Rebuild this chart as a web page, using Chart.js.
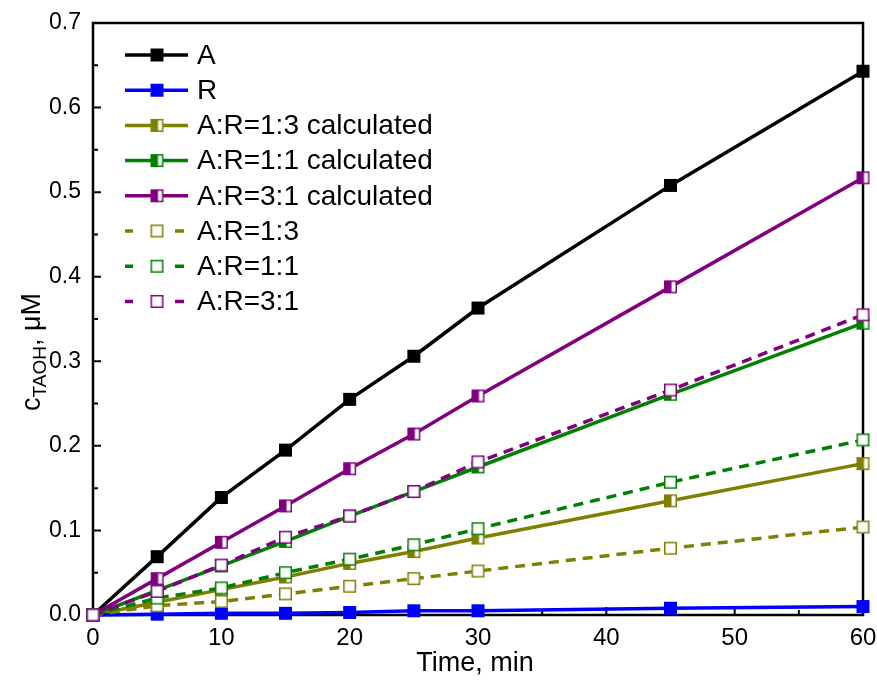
<!DOCTYPE html>
<html>
<head>
<meta charset="utf-8">
<script src="https://cdn.jsdelivr.net/npm/chart.js@4.4.1/dist/chart.umd.min.js"></script>
<style>
  html, body { margin: 0; padding: 0; background: #fff; }
  #wrap { width: 877px; height: 681px; }
</style>
</head>
<body>
<div id="wrap"><canvas id="c" width="877" height="681"></canvas></div>
<script>
// sampling times, min
const times = [0, 5, 10, 15, 20, 25, 30, 45, 60];

// TAOH concentration, uM
const cA     = [0, 0.069, 0.139, 0.195, 0.255, 0.306, 0.363, 0.508, 0.643];
const cR     = [0, 0.001, 0.002, 0.002, 0.003, 0.005, 0.005, 0.008, 0.010];
const calc13 = [0, 0.015, 0.030, 0.045, 0.061, 0.075, 0.091, 0.135, 0.179];
const calc11 = [0, 0.029, 0.058, 0.087, 0.117, 0.146, 0.175, 0.261, 0.345];
const calc31 = [0, 0.043, 0.086, 0.129, 0.173, 0.214, 0.259, 0.388, 0.517];
const meas13 = [0, 0.011, 0.016, 0.025, 0.034, 0.043, 0.052, 0.079, 0.104];
const meas11 = [0, 0.020, 0.032, 0.050, 0.066, 0.083, 0.102, 0.157, 0.207];
const meas31 = [0, 0.028, 0.059, 0.092, 0.117, 0.146, 0.181, 0.266, 0.355];

const xTicks = [0, 10, 20, 30, 40, 50, 60];
const yTicks = [0.0, 0.1, 0.2, 0.3, 0.4, 0.5, 0.6, 0.7];

const FONT = '"Liberation Sans", Arial, Helvetica, sans-serif';
const OLIVE = '#808000', GREEN = '#008000', PURPLE = '#800080';
const DASH = [10, 7];

// square markers: filled, half-filled (left half) or open
function marker(color, kind) {
  const side = 13, pad = 2;
  const cv = document.createElement('canvas');
  cv.width = cv.height = side + pad * 2;
  const g = cv.getContext('2d');
  const x0 = pad, y0 = pad;
  if (kind === 'filled') {
    g.fillStyle = color;
    g.fillRect(x0, y0, side, side);
    return cv;
  }
  g.fillStyle = '#fff';
  g.fillRect(x0, y0, side, side);
  if (kind === 'half') {
    g.fillStyle = color;
    g.fillRect(x0, y0, side * 0.58, side);
  }
  g.strokeStyle = color;
  g.lineWidth = 1.5;
  g.strokeRect(x0 + 0.75, y0 + 0.75, side - 1.5, side - 1.5);
  return cv;
}

const pts = arr => times.map((t, i) => ({ x: t, y: arr[i] }));

const series = [
  { label: 'A',                    data: cA,     color: '#000000', kind: 'filled', dash: false, order: 7 },
  { label: 'R',                    data: cR,     color: '#0000ff', kind: 'filled', dash: false, order: 3 },
  { label: 'A:R=1:3 calculated',   data: calc13, color: OLIVE,     kind: 'half',   dash: false, order: 6 },
  { label: 'A:R=1:1 calculated',   data: calc11, color: GREEN,     kind: 'half',   dash: false, order: 5 },
  { label: 'A:R=3:1 calculated',   data: calc31, color: PURPLE,    kind: 'half',   dash: false, order: 4 },
  { label: 'A:R=1:3',              data: meas13, color: OLIVE,     kind: 'open',   dash: true,  order: 2 },
  { label: 'A:R=1:1',              data: meas11, color: GREEN,     kind: 'open',   dash: true,  order: 1 },
  { label: 'A:R=3:1',              data: meas31, color: PURPLE,    kind: 'open',   dash: true,  order: 0 }
];
series.forEach(s => s.img = marker(s.color, s.kind));

// frame, inward ticks and axis titles
const framePlugin = {
  id: 'frame',
  beforeDatasetsDraw(chart) {
    const { ctx, chartArea: a, scales: { x, y } } = chart;
    ctx.save();
    ctx.strokeStyle = '#000';
    ctx.lineWidth = 2;
    ctx.beginPath();
    for (let v = 0; v <= 60; v += 5) {
      const px = x.getPixelForValue(v), len = v % 10 === 0 ? 8 : 5;
      ctx.moveTo(px, a.bottom); ctx.lineTo(px, a.bottom - len);
    }
    for (let k = 0; k <= 14; k++) {
      const py = y.getPixelForValue(k * 0.05), len = k % 2 === 0 ? 8 : 5;
      ctx.moveTo(a.left, py); ctx.lineTo(a.left + len, py);
    }
    ctx.stroke();
    ctx.lineWidth = 2.5;
    ctx.strokeRect(a.left, a.top, a.right - a.left, a.bottom - a.top);
    ctx.restore();
  },
  afterDraw(chart) {
    const { ctx, chartArea: a } = chart;
    ctx.save();
    ctx.fillStyle = '#000';
    ctx.font = '27px ' + FONT;
    ctx.textAlign = 'center';
    ctx.textBaseline = 'middle';
    ctx.fillText('Time, min', (a.left + a.right) / 2 - 3, 664);

    // c_TAOH, uM rotated
    ctx.translate(31, 352);
    ctx.rotate(-Math.PI / 2);
    ctx.textAlign = 'left';
    ctx.textBaseline = 'alphabetic';
    const big = '27px ' + FONT, small = '19px ' + FONT;
    ctx.font = big;  const w1 = ctx.measureText('c').width;
    ctx.font = small; const w2 = ctx.measureText('TAOH').width;
    ctx.font = big;  const w3 = ctx.measureText(', \u03bcM').width;
    let cx = -(w1 + w2 + w3) / 2;
    const base = 9;
    ctx.font = big;  ctx.fillText('c', cx, base); cx += w1;
    ctx.font = small; ctx.fillText('TAOH', cx, base + 6); cx += w2;
    ctx.font = big;  ctx.fillText(', \u03bcM', cx, base);
    ctx.restore();
  }
};

// legend in the upper left of the plot
const legendPlugin = {
  id: 'legendBox',
  afterDatasetsDraw(chart) {
    const ctx = chart.ctx;
    ctx.save();
    ctx.font = '28px ' + FONT;
    ctx.textBaseline = 'middle';
    ctx.fillStyle = '#000';
    series.forEach((s, i) => {
      const yy = 55 + i * 35.2;
      ctx.strokeStyle = s.color;
      ctx.lineWidth = 3.5;
      ctx.beginPath();
      if (s.dash) {
        ctx.moveTo(125, yy); ctx.lineTo(133, yy);
        ctx.moveTo(175, yy); ctx.lineTo(184, yy);
      } else {
        ctx.moveTo(125, yy); ctx.lineTo(188, yy);
      }
      ctx.stroke();
      ctx.drawImage(s.img, 157 - s.img.width / 2, yy - s.img.height / 2);
      ctx.fillText(s.label, 197, yy + 1);
    });
    ctx.restore();
  }
};

new Chart(document.getElementById('c'), {
  type: 'line',
  data: {
    datasets: series.map(s => ({
      label: s.label,
      data: pts(s.data),
      borderColor: s.color,
      backgroundColor: s.color,
      borderWidth: 3.5,
      borderDash: s.dash ? DASH : [],
      pointStyle: s.img,
      pointRadius: 7,
      pointHoverRadius: 7,
      tension: 0,
      clip: false,
      order: s.order
    }))
  },
  options: {
    responsive: false,
    animation: false,
    events: [],
    layout: { padding: { left: 0, top: 23, right: 14, bottom: 0 } },
    plugins: { legend: { display: false }, tooltip: { enabled: false }, title: { display: false } },
    scales: {
      x: {
        type: 'linear', min: 0, max: 60,
        afterBuildTicks: sc => { sc.ticks = xTicks.map(v => ({ value: v })); },
        afterFit: sc => { sc.height = 66; sc.paddingLeft = 0; sc.paddingRight = 0; },
        grid: { display: false, drawTicks: false },
        border: { display: false },
        ticks: { color: '#000', padding: 9, maxRotation: 0, font: { family: FONT, size: 24 } }
      },
      y: {
        type: 'linear', min: 0, max: 0.7,
        afterBuildTicks: sc => { sc.ticks = yTicks.map(v => ({ value: v })); },
        afterFit: sc => { sc.width = 93; sc.paddingTop = 0; sc.paddingBottom = 0; },
        grid: { display: false, drawTicks: false },
        border: { display: false },
        ticks: { color: '#000', padding: 12, font: { family: FONT, size: 23 },
                 callback: v => v.toFixed(1) }
      }
    }
  },
  plugins: [framePlugin, legendPlugin]
});
</script>
</body>
</html>
